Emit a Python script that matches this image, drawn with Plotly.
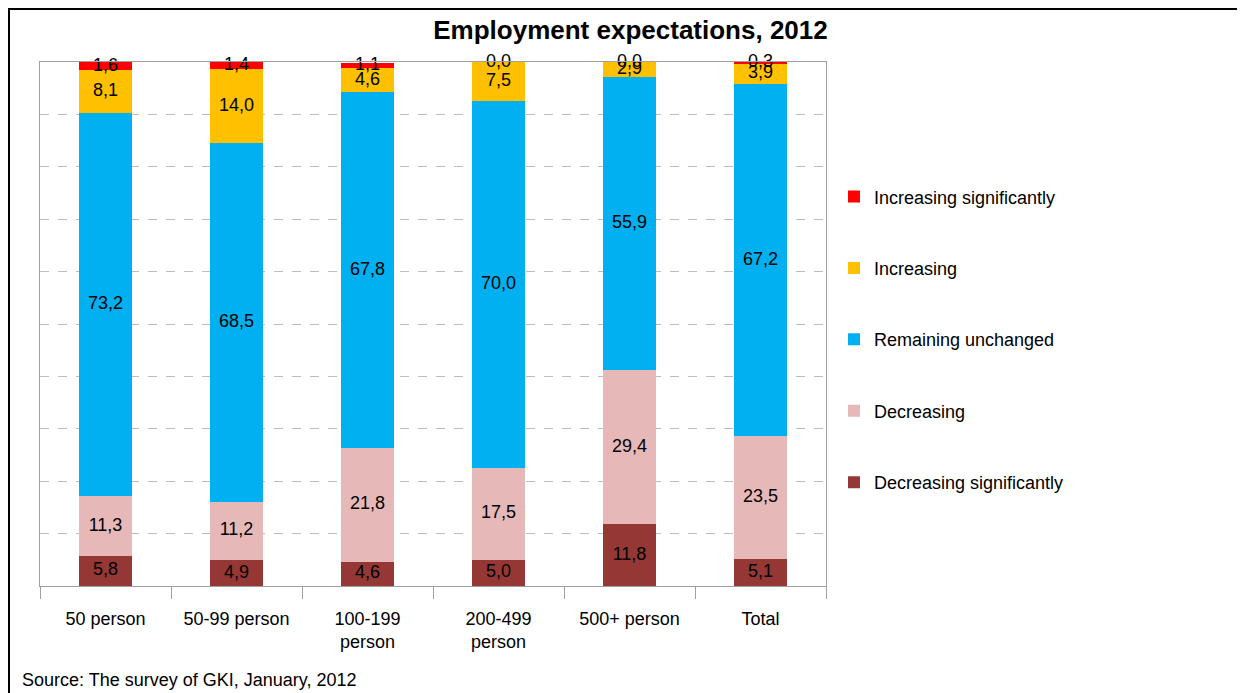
import plotly.graph_objects as go

categories = ["50 person", "50-99 person", "100-199<br>person", "200-499<br>person", "500+ person", "Total"]
decreasing_sig = [5.8, 4.9, 4.6, 5.0, 11.8, 5.1]
decreasing = [11.3, 11.2, 21.8, 17.5, 29.4, 23.5]
unchanged = [73.2, 68.5, 67.8, 70.0, 55.9, 67.2]
increasing = [8.1, 14.0, 4.6, 7.5, 2.9, 3.9]
increasing_sig = [1.6, 1.4, 1.1, 0.0, 0.0, 0.3]

series = [
    ("Decreasing significantly", decreasing_sig, "#953735"),
    ("Decreasing", decreasing, "#E6B9B8"),
    ("Remaining unchanged", unchanged, "#00B0F0"),
    ("Increasing", increasing, "#FFC000"),
    ("Increasing significantly", increasing_sig, "#FF0000"),
]

FONT = "Liberation Sans Narrow, Arial Narrow, Liberation Sans, Arial, sans-serif"

# figure offset by 8px body margin in the page
OX, OY = 8, 8
L, T, R, B = 40 - OX, 62 - OY, 826 - OX, 586 - OY
W, H = 1245, 693
PW, PH = R - L, B - T

fig = go.Figure()
base = [0.0] * len(categories)
label_traces = []
n = len(series)
for i, (name, vals, col) in enumerate(series):
    fig.add_trace(go.Bar(
        x=categories, y=vals, name=name, legendgroup=name, legendrank=n - i,
        marker=dict(color=col, line=dict(width=0)),
        width=0.4, hoverinfo="skip",
    ))
    mids = [b + v / 2 for b, v in zip(base, vals)]
    label_traces.append(go.Scatter(
        x=categories, y=mids, mode="text",
        text=[f"{v:.1f}".replace(".", ",") for v in vals],
        textposition="middle center",
        textfont=dict(size=18, color="black", family=FONT),
        showlegend=False, hoverinfo="skip", cliponaxis=False,
    ))
    base = [b + v for b, v in zip(base, vals)]

for t in label_traces:
    fig.add_trace(t)

fig.update_layout(
    barmode="stack",
    width=W, height=H,
    margin=dict(l=L, r=W - R, t=T, b=H - B),
    paper_bgcolor="white", plot_bgcolor="white",
    font=dict(family=FONT, size=18, color="black"),
    title=dict(text="<b>Employment expectations, 2012</b>", x=0.5, xref="container", xanchor="center",
               y=1 - (30 - OY) / H, yanchor="middle", font=dict(size=26, family=FONT, color="black")),
    legend=dict(x=(834 - OX - L) / PW, xanchor="left", y=0.778, yanchor="top",
                traceorder="grouped", tracegroupgap=45,
                font=dict(size=18, family=FONT), itemwidth=30,
                bgcolor="rgba(0,0,0,0)"),
    showlegend=True,
)

fig.update_xaxes(showline=True, linecolor="#A0A0A0", linewidth=1, mirror=True,
                 ticks="outside", tickson="boundaries", ticklen=12, tickcolor="#A0A0A0",
                 ticklabelstandoff=16,
                 tickfont=dict(size=18, family=FONT), showgrid=False)
fig.update_yaxes(range=[0, 100], dtick=10, showticklabels=False, showgrid=True,
                 gridcolor="#BDBDBD", griddash="dash", gridwidth=1,
                 showline=True, linecolor="#A0A0A0", linewidth=1, mirror=True,
                 zeroline=False)

# outer frame
fig.add_shape(type="rect", xref="paper", yref="paper",
              x0=(1 - L) / PW, x1=(1232 - L) / PW, y0=-0.3, y1=(B - 1) / PH,
              line=dict(color="black", width=2), fillcolor="rgba(0,0,0,0)", layer="above")

fig.add_annotation(text="Source: The survey of GKI, January, 2012", xref="paper", yref="paper",
                   x=(20 - OX - L) / PW, y=(B - (680 - OY)) / PH, xanchor="left", yanchor="middle",
                   showarrow=False, font=dict(size=18, family=FONT, color="black"))

fig.write_html("out.html")
